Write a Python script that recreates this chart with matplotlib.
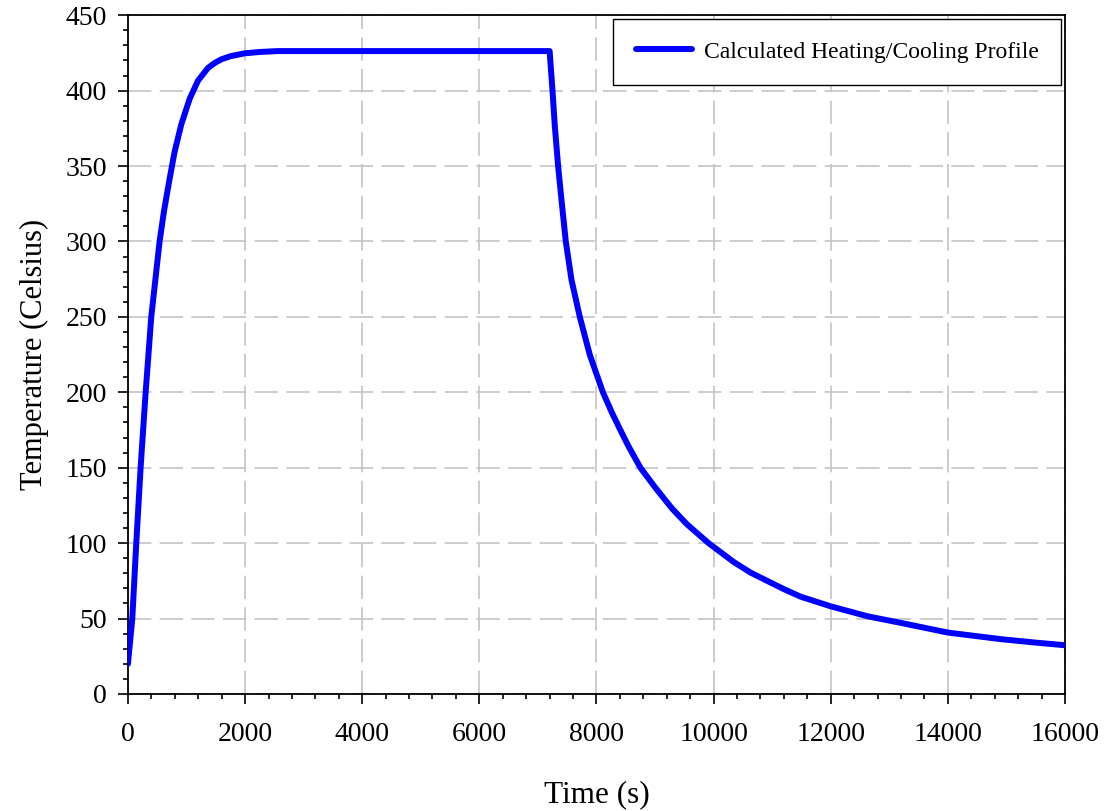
import matplotlib
matplotlib.use("Agg")
import matplotlib.pyplot as plt
from matplotlib.ticker import MultipleLocator

# values
time_s = [0, 74, 142, 216, 302, 398, 540, 615, 711, 797, 910, 1053, 1195, 1366,
          1480, 1593, 1750, 1992, 2250, 2561, 7200,
          7249, 7289, 7345, 7402, 7476, 7573, 7715, 7886, 8110, 8261, 8400,
          8544, 8750, 9000, 9289, 9545, 9914, 10000, 10343, 10629, 10914,
          11200, 11486, 12000, 12629, 13200, 14000, 14914, 15486, 16000]
temp_c = [20, 50, 100, 150, 200, 250, 300, 320, 341.5, 359.5, 377.5, 394.5, 406.5,
          415, 418.3, 420.7, 422.8, 424.7, 425.6, 426.2, 426.2,
          400, 376.3, 350, 327.7, 300, 274.6, 250, 224.8, 200, 186.7, 175.6,
          164.4, 150, 137, 123, 112.5, 100, 97.5, 87.5, 80.5, 75,
          69.5, 64.5, 58.1, 51.5, 47.1, 40.7, 36.3, 34.1, 32.3]
series_label = "Calculated Heating/Cooling Profile"

plt.rcParams['font.family'] = ['Liberation Serif', 'DejaVu Serif']

fig = plt.figure(figsize=(11.05, 8.11), dpi=100)
ax = fig.add_axes([0.1158, 0.1443, 0.848, 0.837])

ax.plot(time_s, temp_c, color='#0000ff', lw=4.3, solid_capstyle='round',
        solid_joinstyle='round', label=series_label, zorder=3)

ax.set_xlim(0, 16000)
ax.set_ylim(0, 450)
ax.xaxis.set_major_locator(MultipleLocator(2000))
ax.xaxis.set_minor_locator(MultipleLocator(400))
ax.yaxis.set_major_locator(MultipleLocator(50))
ax.yaxis.set_minor_locator(MultipleLocator(10))
ax.tick_params(which='major', direction='out', length=7, width=1.2,
               labelsize=20, pad=8)
ax.tick_params(which='minor', direction='out', length=3.6, width=1.2)
ax.tick_params(axis='x', which='major', pad=13)
for s in ax.spines.values():
    s.set_linewidth(1.3)

ax.grid(True, which='major', color='#c4c4c4', lw=1.2, linestyle=(0, (14, 5)))

ax.set_xlabel('Time (s)', fontsize=22.5, labelpad=24)
ax.set_ylabel('Temperature (Celsius)', fontsize=22, labelpad=12)

leg = ax.legend(loc='upper right', fontsize=17, fancybox=False, framealpha=1,
                edgecolor='black', handlelength=2.4, handletextpad=0.5,
                borderpad=0.95, borderaxespad=0.15)
leg.get_frame().set_linewidth(1.0)

fig.savefig('out.png', dpi=100)
